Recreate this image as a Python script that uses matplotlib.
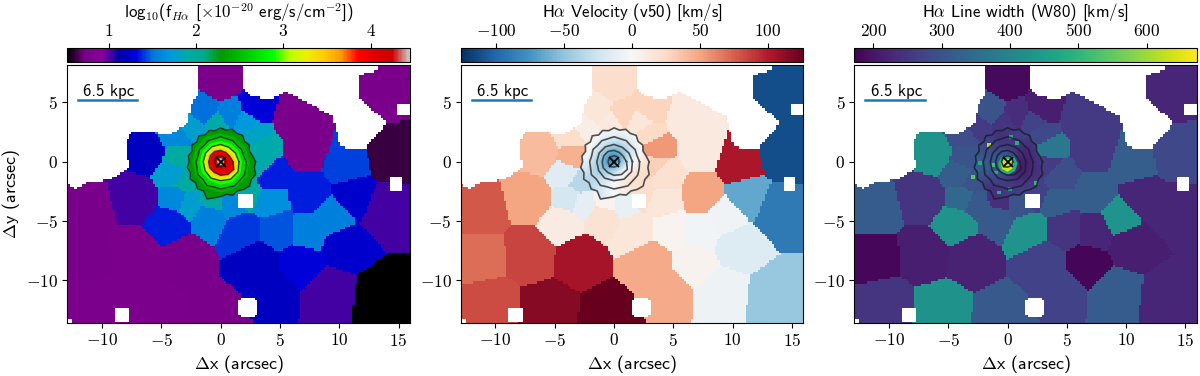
import numpy as np
import matplotlib
matplotlib.use('Agg')
import matplotlib.pyplot as plt
from matplotlib.cm import ScalarMappable
from matplotlib.colors import Normalize
from matplotlib.path import Path
from matplotlib.patches import Polygon

plt.rcParams['font.family'] = ['cmss10', 'DejaVu Sans']
plt.rcParams['mathtext.fontset'] = 'cm'
plt.rcParams['axes.unicode_minus'] = False
plt.rcParams['axes.formatter.use_mathtext'] = True
plt.rcParams['font.size'] = 11

# voronoi bins: centre in arcsec, flux, v50, w80
bin_x = [0, 2.9, -1.4, 0.8, 6.2, 13.7, 14.2, 10.6, 13.7, 11.3, 13.6, 10.4, 9, 6.7, 3, 9.4, 7.3,
         4.9, 1.7, -0.9, -4.3, -3.7, 4.2, 7.3, 4.2, -7, -11.3, -6.1, -7.0, -11.3, -3, -10.5,
         -5.5, -0.5, -3.6, -2.5, -0.3, 2.1, 2.8, 3.4, 3.3, -4, -3.5, 2.2, 0.8, -0.6, -2.9, 7.2, -2.6, 4.4]
bin_y = [6.6, 4.5, 4.2, 3.9, 3.6, 6, 0.6, -0.1, -4, -3, -11.5, -7.0, -11, -8.6, -8.4, -4.7, -5.8,
         -5.6, -5.8, -4.6, -5.2, -3, -3.3, -2.7, -1.2, -3, -4.1, 0.7, -7.7, -8, -8, -12,
         -12.5, -13, 2.1, 2.9, 3.2, 3.3, 2.3, 1.1, -0.3, -1, 0.4, -2.5, -3.4, -3.3, -1.8, 1.0, -3.4, -10.8]
bin_flux = [0.76, 1.3, 1.5, 1.55, 0.76, 0.76, 0.62, 1.42, 1.02, 1.25, 0.5, 1.25, 1.02, 1.3, 1.2, 1.55, 1.55,
            1.45, 1.4, 1.55, 1.35, 1.6, 1.65, 1.35, 1.35, 1.02, 0.74, 1.2, 0.78, 0.74, 0.74, 0.78,
            0.78, 0.76, 1.6, 1.75, 1.9, 1.7, 1.8, 1.9, 1.9, 1.75, 1.95, 1.95, 1.6, 1.95, 1.95, 0.76, 1.75, 1.2]
bin_vel = [22, 28, 15, 28, 12, -112, -112, 103, -90, -65, -48, -17, -6, 4, 48, -5, -4,
           3, 15, 18, 10, -22, 15, 50, 20, 50, 78, 40, 85, 70, 105, 82,
           115, 126, 22, 8, 12, 15, 25, 55, 30, -15, 45, 22, -10, 3, -35, 12, -12, 48]
bin_width = [185, 215, 300, 235, 255, 225, 280, 320, 225, 225, 225, 215, 315, 178, 270, 430, 225,
             250, 430, 310, 430, 340, 320, 320, 290, 250, 315, 425, 215, 180, 220, 250,
             425, 310, 290, 260, 250, 270, 280, 370, 260, 320, 300, 270, 300, 240, 300, 255, 310, 270]

# regions without data
blank_left = [(-2, 8.5), (-2, 5.5), (-2.55, 4.8), (-2.65, 3.35), (-4.25, 2.25), (-5.35, 2.4), (-7.5, 2.6),
              (-7.9, 1.55), (-7.75, -0.55), (-9.3, -1.55), (-11, -1.7), (-12.1, -2.25), (-12.9, -1.95),
              (-13.2, -1.95), (-13.2, 8.5)]
blank_right = [(1.95, 8.5), (13.3, 8.5), (13.2, 7.7), (11.75, 7.3), (11.6, 5.5), (14, 3.25), (12.05, 1),
               (10.1, 1.25), (9.5, 3.8), (5.6, 5.9), (4.2, 5.2), (2.5, 5.6), (1.95, 6.2)]
# centre and half size of the small masked patches, last one has cut corners
hole_x = [2.1, 15.45, 14.8, -8.3, -12.7, 2.3]
hole_y = [-3.35, 4.35, -1.9, -12.85, -13.6, -12.25]
hole_size = [0.58, 0.55, 0.58, 0.58, 0.2, 0.8]
hole_cut = [9, 9, 9, 9, 9, 1.3]

# flux isophotes, radius vs angle (anticlockwise from east), outermost first
ring_r = [
    [2.95, 2.75, 2.6, 2.8, 2.65, 2.9, 2.75, 2.9, 2.7, 2.85, 2.65, 2.8, 2.6, 2.85, 2.6, 2.8, 2.55, 2.75,
     2.65, 2.85, 2.7, 2.95, 2.75, 3.0, 2.85, 3.35, 3.1, 2.95, 2.8, 3.0, 2.85, 3.05, 3.2, 3.0, 3.15, 2.9],
    [2.45, 2.4, 2.4, 2.4, 2.45, 2.4, 2.4, 2.4, 2.5, 2.6, 2.55, 2.6],
    [2.15, 2.0, 2.05, 1.95, 2.05, 2.0, 2.1, 2.0, 2.05, 1.95, 2.05, 1.95, 2.05, 2.05, 2.2, 2.1, 2.3, 2.2, 2.3, 2.25, 2.35, 2.25, 2.3, 2.2],
    [1.8, 1.75, 1.75, 1.75, 1.75, 1.75, 1.75, 1.8, 1.85, 1.95, 2.0, 1.95],
    [1.55, 1.45, 1.4, 1.45, 1.45, 1.45, 1.45, 1.5, 1.6, 1.6, 1.7, 1.7],
    [1.3, 1.15, 1.1, 1.15, 1.2, 1.2, 1.2, 1.25, 1.3, 1.35, 1.45, 1.5],
    [1.05, 0.9, 0.9, 0.95, 1.0, 1.0, 1.0, 1.05, 1.05, 1.15, 1.25, 1.3],
    [0.8, 0.7, 0.7, 0.75, 0.75, 0.75, 0.75, 0.8, 0.8, 0.85, 1.0, 1.0],
    [0.45, 0.45, 0.5, 0.5, 0.5, 0.5, 0.5, 0.5, 0.5, 0.45, 0.45, 0.45],
    [0.3, 0.3, 0.3, 0.3, 0.3, 0.3, 0.3, 0.3],
]
ring_flux = [2.3, 2.45, 2.65, 2.9, 3.15, 3.45, 3.95, 4.05, 4.2, 4.42]
ring_contour = [True, False, True, False, True, False, True, False, True, False]
ring_lw = [1.0, 1.2, 1.2]

# unbinned centre, 1 arcsec steps, y from +3 down to -3, x from -3 to +3
core_vel = [[12, 8, 5, 0, 0, 8, 15],
            [15, 8, -5, -15, -12, 5, 18],
            [25, -5, -40, -65, -40, -8, 20],
            [5, -20, -70, -110, -30, 10, 20],
            [-30, -35, -45, -25, 20, 25, 25],
            [-30, -40, -15, 10, 18, 20, 20],
            [-25, -30, -20, 0, 5, 10, 15]]
core_width = [[260, 260, 250, 250, 250, 270, 280],
              [260, 300, 230, 240, 290, 240, 280],
              [300, 260, 280, 250, 230, 220, 300],
              [320, 340, 300, 400, 190, 220, 260],
              [330, 300, 310, 260, 180, 230, 250],
              [300, 240, 240, 260, 260, 260, 260],
              [260, 230, 230, 260, 260, 270, 270]]
# width hot centre and single bright spaxels
width_core_r = [[0.85, 0.8, 0.75, 0.75, 0.8, 0.9, 0.95, 0.9],
                [0.5, 0.45, 0.4, 0.45, 0.55, 0.65, 0.7, 0.6]]
width_core_val = [480, 640]
spot_x = [-1.55, -2.9, 0.8, 0.3, -1.2, -1.0, 2.4, -2.3, 0.2, -0.7]
spot_y = [1.4, -1.3, 1.6, 2.1, -0.3, -0.9, -1.8, -0.1, -2.3, -2.6]
spot_val = [620, 540, 480, 470, 520, 480, 500, 470, 450, 480]

titles = [r'log$_{10}$(f$_{H\alpha}$ [$\times10^{-20}$ erg/s/cm$^{-2}$])',
          r'H$\alpha$ Velocity (v50) [km/s]',
          r'H$\alpha$ Line width (W80) [km/s]']
cmaps = ['nipy_spectral', 'RdBu_r', 'viridis']
limits = [(0.52, 4.45), (-126, 126), (172, 673)]
cbar_ticks = [[1, 2, 3, 4], [-100, -50, 0, 50, 100], [200, 300, 400, 500, 600]]
panel_left = [67, 460.7, 854.3]
panel_right = [410, 803.3, 1196.7]
contour_col = ['#222222', '#333333', '#16232b']

W, H = 1200.0, 376.0


def ring_xy(r):
    ang = np.radians(np.linspace(0, 360, len(r), endpoint=False))
    return np.c_[np.array(r) * np.cos(ang), np.array(r) * np.sin(ang)]


# spaxel grid
xe = np.arange(-13.1, 16.2, 0.2)
ye = np.arange(-13.7, 8.4, 0.2)
xc = 0.5 * (xe[1:] + xe[:-1])
yc = 0.5 * (ye[1:] + ye[:-1])
gx, gy = np.meshgrid(xc, yc)
d = (gx[..., None] - np.array(bin_x)) ** 2 + (gy[..., None] - np.array(bin_y)) ** 2
nearest = d.argmin(axis=-1)
pts = np.c_[gx.ravel(), gy.ravel()]
mask = Path(blank_left).contains_points(pts) | Path(blank_right).contains_points(pts)
mask = mask.reshape(gx.shape)
for hx, hy, hs, hc in zip(hole_x, hole_y, hole_size, hole_cut):
    dx, dy = np.abs(gx - hx), np.abs(gy - hy)
    mask |= (dx < hs) & (dy < hs) & (dx + dy < hc)

fig = plt.figure(figsize=(12, 3.76), dpi=100)
values = [bin_flux, bin_vel, bin_width]
for i in range(3):
    l, r = panel_left[i], panel_right[i]
    ax = fig.add_axes([l / W, 1 - 323 / H, (r - l) / W, 258 / H])
    cax = fig.add_axes([l / W, 1 - 62 / H, (r - l) / W, 14 / H])
    vmin, vmax = limits[i]
    norm = Normalize(vmin, vmax)
    cmap = plt.get_cmap(cmaps[i])
    img = np.ma.array(np.array(values[i])[nearest], mask=mask)
    ax.pcolormesh(xe, ye, img, cmap=cmap, norm=norm, rasterized=True, zorder=1)

    outer = Polygon(ring_xy(ring_r[0]), closed=True, transform=ax.transData)
    if i == 0:
        for rr, v in zip(ring_r, ring_flux):
            ax.fill(*ring_xy(rr).T, color=cmap(norm(v)), lw=0, zorder=2)
    else:
        core = core_vel if i == 1 else core_width
        im = ax.imshow(core, extent=(-3.5, 3.5, -3.5, 3.5), cmap=cmap, norm=norm,
                       interpolation='bicubic', aspect='auto', zorder=2)
        im.set_clip_path(outer)
        if i == 2:
            for rr, v in zip(width_core_r, width_core_val):
                ax.fill(*(ring_xy(rr) + [0, -0.15]).T, color=cmap(norm(v)), lw=0, zorder=2.1)
            ax.scatter(spot_x, spot_y, c=spot_val, cmap=cmap, norm=norm, marker='s', s=7, lw=0, zorder=2.2)

    for rr, on in zip(ring_r, ring_contour):
        if on:
            xy = ring_xy(rr)
            xy = np.vstack([xy, xy[:1]])
            ax.plot(xy[:, 0], xy[:, 1], color=contour_col[i], lw=ring_lw[i], alpha=0.85, zorder=3)

    ax.plot(0, 0, marker='x', color='k', ms=7, mew=1.3, zorder=4)
    ax.plot([-12, -7], [5.2, 5.2], color='tab:blue', lw=1.8, zorder=4)
    ax.text(-9.4, 5.3, '6.5 kpc', ha='center', va='bottom', fontsize=12, zorder=4)

    ax.set_xlim(-12.93, 15.96)
    ax.set_ylim(-13.6, 8.15)
    ax.set_xticks([-10, -5, 0, 5, 10, 15])
    ax.set_yticks([-10, -5, 0, 5])
    ax.set_xticklabels(['$%d$' % t for t in ax.get_xticks()], fontsize=12.5)
    ax.set_yticklabels(['$%d$' % t for t in ax.get_yticks()], fontsize=12.5)
    ax.tick_params(length=3.5, width=0.8, pad=3)
    ax.set_xlabel(r'$\Delta$x (arcsec)', fontsize=13, labelpad=3)
    if i == 0:
        ax.set_ylabel(r'$\Delta$y (arcsec)', fontsize=13, labelpad=3)

    cb = fig.colorbar(ScalarMappable(norm=norm, cmap=cmap), cax=cax, orientation='horizontal')
    cb.set_ticks(cbar_ticks[i])
    cb.set_ticklabels(['$%d$' % t for t in cbar_ticks[i]], fontsize=12.5)
    cax.xaxis.set_ticks_position('top')
    cax.xaxis.set_label_position('top')
    cax.tick_params(length=3.5, width=0.8, pad=3)
    cb.set_label(titles[i], fontsize=12.2, labelpad=3.5)

fig.savefig('out.png', dpi=100)
